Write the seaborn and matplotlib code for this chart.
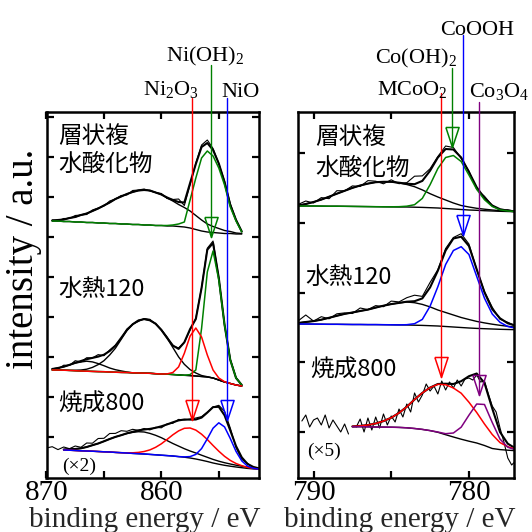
import numpy as np
import matplotlib
matplotlib.use("Agg")
import matplotlib.pyplot as plt
import seaborn as sns

nan = np.nan

# ---------------- Ni 2p (left panel) ----------------
# binding energy grid (eV); intensities are in arbitrary units
ni_E = [870.0, 869.5, 869.0, 868.5, 868.0, 867.5, 867.0, 866.5, 866.0, 865.5,
        865.0, 864.5, 864.0, 863.5, 863.0, 862.5, 862.0, 861.5, 861.0, 860.5,
        860.0, 859.5, 859.0, 858.5, 858.0, 857.5, 857.0, 856.5, 856.0, 855.5,
        855.0, 854.5, 854.0, 853.5, 853.0, 852.5, 852.0, 851.5]

# 層状複水酸化物
ni_ldh_bg = [nan, 257, 257, 256.5, 256.5, 256, 256, 255.5, 255.5, 255, 255, 254.5, 254.5, 254, 254,
             253.5, 253.5, 253, 253, 252.5, 252.5, 252, 252, 251.5, 251, 250, 248.5, 247, 246, 245.5,
             245, 244.5, 244.5, 244, 244, nan, nan, nan]
ni_ldh_sat = [nan, 0.5, 1, 2, 3.5, 5, 7, 9, 11.5, 14.5, 17.5, 21, 24.5, 27.5, 30, 32.5, 34, 35, 34.5, 33,
              31, 28, 25, 22, 19.5, 17, 14, 11, 8, 6, 4.5, 3, 2, 1, 0.5, nan, nan, nan]
ni_ldh_oh = [nan, 0, 0, 0, 0, 0, 0, 0, 0, 0, 0, 0, 0, 0, 0, 0, 0, 0, 0, 0, 0,
             0.5, 1, 2.5, 5, 28, 51.5, 73, 81, 76.5, 65, 48.5, 26.5, 13, 2, nan, nan, nan]
ni_ldh_res = [nan, 0.5, -1, 1, -0.5, 1.5, 0, -1, 1, 0.5, -0.5, 1.5, 0, 1, -1, 1.5, 0.5, 1, -0.5, 0,
              1, -1, 0.5, 3, -3, -2, 1, 2, 3, 1.5, 0, 1, 1.5, 0.5, 0, nan, nan, nan]

# 水熱120
ni_hyd_bg = [nan, 108, 108, 107.8, 107.6, 107.3, 107, 106.8, 106.6, 106.4, 106.3, 106, 105.8, 105.6,
             105.5, 105.2, 105, 104.9, 104.7, 104.3, 104, 103.8, 103.5, 103.1, 102.7, 102.4, 102, 101.5,
             101, 100, 98, 96, 94.5, 93, 92, nan, nan, nan]
ni_hyd_sat1 = [nan, 1, 2, 3.5, 5.5, 7.5, 9, 10, 9.5, 8, 6, 4, 2.5, 1.5, 0.5, 0, 0, 0, 0, 0,
               0, 0, 0, 0, 0, 0, 0, 0, 0, 0, 0, 0, 0, 0, 0, nan, nan, nan]
ni_hyd_sat2 = [nan, 0, 0, 0, 0, 0.5, 1, 2, 4, 7, 11, 17, 24, 33, 42, 48.5, 52.5, 54, 53, 50,
               44, 36, 27, 18, 11, 6, 3, 1, 0.3, 0, 0, 0, 0, 0, 0, nan, nan, nan]
ni_hyd_n2o3 = [nan, 0, 0, 0, 0, 0, 0, 0, 0, 0, 0, 0, 0, 0, 0, 0, 0, 0, 0, 0, 0,
               0.3, 2, 8, 22, 39.5, 48, 39.5, 22, 8, 2, 0.3, 0, 0, 0, nan, nan, nan]
ni_hyd_oh = [nan, 0, 0, 0, 0, 0, 0, 0, 0, 0, 0, 0, 0, 0, 0, 0, 0, 0, 0, 0, 0, 0, 0, 0,
             0, 1, 6, 48, 105, 127, 100, 57, 23.5, 7, 1, nan, nan, nan]
ni_hyd_res = [nan, 0.5, -1, 1.5, -0.5, 2, -1, 1.5, 0, 2, -1, 1, 0.5, -0.5, 1, 0, -1, 0.5, 1, -0.5,
              0.5, 1, -0.5, 1, 0, -1, 1, 0.5, 1.5, 2, 0.5, 0, 1, 0.5, 0, nan, nan, nan]

# 焼成800 (x2)
ni_cal_bg = [28.5, 28.3, 28.1, 28, 27.8, 27.5, 27.2, 27, 26.8, 26.5, 26.2, 26, 25.6, 25.3, 25, 24.6,
             24.3, 24, 23.6, 23.2, 22.8, 22.4, 22, 21.4, 20.8, 20, 19, 17.8, 16.5, 15, 13.8, 12.7,
             11.8, 11, 10.3, 9.6, 9.1, 8.7]
ni_cal_sat = [0, 0, 0.3, 0.5, 1, 1.5, 2.5, 4, 6, 8, 10.5, 13, 15.5, 17.5, 19.5, 21, 22, 22, 21, 19.5,
              17.5, 15, 12.5, 10.5, 8.5, 7, 6, 5, 4.2, 3.6, 3, 2.6, 2.2, 1.8, 1.5, 1.2, 0.9, 0.6]
ni_cal_n2o3 = [0, 0, 0, 0, 0, 0, 0, 0, 0, 0, 0, 0, 0, 0, 0.2, 0.6, 1.3, 2.5, 4.5, 7.5, 11.4, 16.2,
               21.2, 25.7, 28.9, 30, 28.9, 26, 22, 17.5, 13, 9, 5.8, 3.5, 2, 1, 0.5, 0.2]
ni_cal_nio = [0, 0, 0, 0, 0, 0, 0, 0, 0, 0, 0, 0, 0, 0, 0, 0, 0, 0, 0, 0, 0, 0, 0, 0,
              0.3, 1.4, 4.6, 11.6, 22.7, 34.8, 41.4, 38.4, 27.7, 15.6, 6.8, 2.3, 0.6, 0.1]
ni_cal_res = [1.5, 3, 0, 2.5, 0.5, 3, 1, 4, 2, 5, 3, 5.5, 3.5, 4.5, 2, 2.5, 0, 1, -1, 0.5,
              -1.5, 0.5, -1, 1, -0.5, 0.5, 1.5, 1, 0.5, 0, 1.5, 4, 2.5, -1.5, -2, 0.5, -1, -0.5]

ni_ref_labels = ["Ni$_2$O$_3$", "Ni(OH)$_2$", "NiO"]
ni_ref_E = [857.3, 855.7, 854.3]
ni_ref_colors = ["red", "green", "blue"]
ni_arrow_h = [58, 241, 58]
ni_ticks = [870, 865, 860, 855]
ni_ticklabels = ["870", "", "860", ""]

# ---------------- Co 2p (right panel) ----------------
co_E = [791.0, 790.5, 790.0, 789.5, 789.0, 788.5, 788.0, 787.5, 787.0, 786.5, 786.0, 785.5,
        785.0, 784.5, 784.0, 783.5, 783.0, 782.5, 782.0, 781.5, 781.0, 780.5, 780.0, 779.5,
        779.0, 778.5, 778.0, 777.5, 777.0]

co_ldh_bg = [272, 272, 272, 271.9, 271.8, 271.8, 271.7, 271.6, 271.5, 271.4, 271.3, 271.2, 271.1,
             271, 271, 270.8, 270.6, 270.3, 270, 269.5, 269, 268.5, 268, 267.7, 267.3, 267, 266.7,
             266.5, 266.3]
co_ldh_sat = [0.5, 2, 4, 6.5, 9.5, 12.5, 15.5, 18.5, 21, 23, 24.5, 25, 25, 24, 22.5, 20.5, 17.5,
              14, 11, 8.5, 6, 4, 3, 2, 1.5, 1, 0.6, 0.3, 0.1]
co_ldh_oh = [0, 0, 0, 0, 0, 0, 0, 0, 0, 0, 0, 0, 0.1, 0.3, 0.8, 2.5, 9, 23, 39.5, 51, 53.5, 48,
             35, 21, 11, 4.5, 1.5, 0.5, 0.2]
co_ldh_res = [1, 3, -1, 2, -2, 3, 0, 2, -1, 3, 1, -2, 2, -1, 1, 8, 5, 2, 1, 3, 2, -1, 1, -2, 2,
              0, -1, 1, 0]

co_hyd_bg = [154, 154, 153.9, 153.8, 153.7, 153.7, 153.6, 153.5, 153.5, 153.4, 153.4, 153.3, 153.2,
             153.1, 153, 152.8, 152.6, 152.3, 152, 151.5, 151, 150.5, 150, 149.6, 149.3, 149, 148.7,
             148.5, 148.3]
co_hyd_sat = [1, 2, 3, 4.5, 6.5, 8.5, 10.5, 12, 13.5, 15, 17, 19, 20.7, 22, 23, 22.5, 21, 18.8, 16,
              14, 12, 10, 8.5, 7, 5.8, 4.8, 4, 3.2, 2.5]
co_hyd_oohh = [0, 0, 0, 0, 0, 0, 0, 0, 0, 0, 0, 0, 0, 0, 0.3, 1.5, 6, 19.5, 39.3, 62, 76.5, 80.8,
               73.5, 52, 30.5, 15, 7, 3, 1.5]
co_hyd_res = [2, 7, 0, 3, -1, 2, 1, -1, 3, 0, 2, -1, 3, 1, 4, 6, 2, 5, 1, 2, 1, 3, 2, 0, 1, 2,
              -1, 1, 0]

co_cal_bg = [nan, nan, nan, nan, nan, nan, nan, 51.3, 51.3, 51.2, 51, 50.9, 50.8, 50.6, 50.2, 49.5,
             48.6, 47.4, 45.7, 43.3, 41, 38.8, 36.8, 35, 32.5, 29.5, 28.4, 27.8, 27.3]
co_cal_mcoo2 = [nan, nan, nan, nan, nan, nan, nan, 0.3, 0.8, 1.8, 3.5, 6, 9.5, 14.5, 21, 29, 36.5,
                43, 48, 50, 49, 46, 39, 30.5, 21.5, 14, 7, 3.5, 1.5]
co_cal_co3o4 = [nan, nan, nan, nan, nan, nan, nan, 0, 0, 0, 0, 0, 0, 0, 0, 0, 0, 0, 0.3, 1, 4,
                12, 26, 39, 41, 26, 10.5, 3, 0.8]
# 焼成800 (x5) raw data on a finer grid
co_cal_raw_E = [791.0, 790.75, 790.5, 790.25, 790.0, 789.75, 789.5, 789.25, 789.0, 788.75, 788.5,
                788.25, 788.0, 787.75, 787.5, 787.25, 787.0, 786.75, 786.5, 786.25, 786.0, 785.75,
                785.5, 785.25, 785.0, 784.75, 784.5, 784.25, 784.0, 783.75, 783.5, 783.25, 783.0,
                782.75, 782.5, 782.25, 782.0, 781.75, 781.5, 781.25, 781.0, 780.75, 780.5, 780.25,
                780.0, 779.75, 779.5, 779.25, 779.0, 778.75, 778.5, 778.25, 778.0, 777.75, 777.5,
                777.25, 777.0]
co_cal_raw = [nan, 57, 63, 51, 58, 60, 53, 63, 50, 58, 52, 46, 54, 44, nan, 51, 59, 46, 60, 48, 61,
              50, 64, 53, 62, 56, 69, 61, 74, 66, 85, 76, 83, 94, 87, 92, 84, 97, 88, 96, 90, 98,
              92, 99, 100, 98, 103, 96, 97, 84, 72, 66, 50, 36, 20, 13, 17]

co_ref_labels = ["MCoO$_2$", "Co(OH)$_2$", "CoOOH", "Co$_3$O$_4$"]
co_ref_E = [781.8, 781.1, 780.4, 779.35]
co_ref_colors = ["red", "green", "blue", "purple"]
co_arrow_h = [101, 331, 243, 83]
co_ticks = [790, 785, 780]
co_ticklabels = ["790", "", "780"]

# ---------------- style ----------------
sns.set_theme(style="ticks", rc={"axes.edgecolor": "black", "xtick.color": "black",
                                 "ytick.color": "black", "text.color": "black"})
plt.rcParams["font.family"] = ["Liberation Serif", "Noto Sans CJK JP", "DejaVu Sans"]
plt.rcParams["mathtext.fontset"] = "custom"
plt.rcParams["mathtext.rm"] = "Liberation Serif"
plt.rcParams["mathtext.it"] = "Liberation Serif:italic"
plt.rcParams["mathtext.bf"] = "Liberation Serif:bold"
JP = ["Noto Sans CJK JP", "DejaVu Sans"]

W = H = 532
AX_BOT, AX_TOP = 478, 112
fig = plt.figure(figsize=(5.32, 5.32), dpi=100)
fig.patch.set_facecolor("white")
ax_ni = fig.add_axes([46.5 / W, 1 - AX_BOT / H, 212.5 / W, (AX_BOT - AX_TOP) / H])
ax_co = fig.add_axes([298 / W, 1 - AX_BOT / H, 216 / W, (AX_BOT - AX_TOP) / H])


def fx(x):
    return x / W


def fy(y):
    return 1 - y / H


def line(ax, x, y, color, lw):
    x = np.asarray(x, float)
    y = np.asarray(y, float)
    ok = ~np.isnan(y)
    seg = np.cumsum(~ok)[ok]
    sns.lineplot(x=x[ok], y=y[ok], units=seg, estimator=None, sort=False,
                 color=color, linewidth=lw, ax=ax, legend=False)


def spectrum(ax, E, bg, sats, comps, res=None, fit_max=None):
    E = np.asarray(E, float)
    bg = np.asarray(bg, float)
    sats = [np.asarray(s, float) for s in sats]
    comps = [(np.asarray(c, float), col) for c, col in comps]
    env = bg + sum(sats) + sum(c for c, _ in comps)
    if res is not None:
        line(ax, E, env + np.asarray(res, float), "black", 0.8)
    fit = E <= fit_max if fit_max is not None else np.ones(len(E), bool)
    f = lambda y: np.where(fit, y, nan)
    line(ax, E, f(env), "black", 1.5)
    line(ax, E, f(bg), "black", 1.0)
    for s in sats:
        line(ax, E, f(bg + s), "black", 1.0)
    for c, col in comps:
        line(ax, E, f(bg + c), col, 1.1)


# left panel
spectrum(ax_ni, ni_E, ni_ldh_bg, [ni_ldh_sat], [(ni_ldh_oh, "green")], ni_ldh_res)
spectrum(ax_ni, ni_E, ni_hyd_bg, [ni_hyd_sat1, ni_hyd_sat2],
         [(ni_hyd_oh, "green"), (ni_hyd_n2o3, "red")], ni_hyd_res)
spectrum(ax_ni, ni_E, ni_cal_bg, [ni_cal_sat],
         [(ni_cal_n2o3, "red"), (ni_cal_nio, "blue")], ni_cal_res, fit_max=868.6)

# right panel
spectrum(ax_co, co_E, co_ldh_bg, [co_ldh_sat], [(co_ldh_oh, "green")], co_ldh_res)
spectrum(ax_co, co_E, co_hyd_bg, [co_hyd_sat], [(co_hyd_oohh, "blue")], co_hyd_res)
line(ax_co, co_cal_raw_E, co_cal_raw, "black", 0.8)
spectrum(ax_co, co_E, co_cal_bg, [], [(co_cal_mcoo2, "red"), (co_cal_co3o4, "purple")])

# reference lines with open arrow heads
ARROW = [(-0.33, 1.0), (0.33, 1.0), (0.0, 0.0), (-0.33, 1.0)]


def refs(ax, labels, Es, cols, tips, label_xy, top_px):
    for lab, E, col, tip, (lx, ly), tp in zip(labels, Es, cols, tips, label_xy, top_px):
        ax.plot([E, E], [tip, AX_BOT - tp], color=col, lw=1.0, clip_on=False, zorder=6)
        ax.plot([E], [tip], marker=ARROW, ms=28.8, mfc="none", mec=col, mew=1.1,
                clip_on=False, zorder=6)
        fig.text(fx(lx), fy(ly), lab, ha="center", va="baseline", fontsize=16)


refs(ax_ni, ni_ref_labels, ni_ref_E, ni_ref_colors, ni_arrow_h,
     [(171.5, 95), (205.5, 61.7), (241, 96.7)], [98, 65, 98])
refs(ax_co, co_ref_labels, co_ref_E, co_ref_colors, co_arrow_h,
     [(412.5, 95), (415.5, 63.3), (477.5, 35), (499, 96.7)], [93, 68, 35, 102])

# axes
for ax, lim, ticks, labs, yt, lx in [
        (ax_ni, (870, 851.5), ni_ticks, ni_ticklabels, [41, 81, 121, 161, 201, 241, 281, 321, 361], 0.461),
        (ax_co, (791.0, 777.1), co_ticks, co_ticklabels, [46, 116, 185, 255, 325], 0.472)]:
    ax.set_xlim(*lim)
    ax.set_ylim(0, AX_BOT - AX_TOP)
    ax.set_xticks(ticks)
    ax.set_xticklabels(labs)
    ax.set_yticks(yt)
    ax.set_ylabel("")
    ax.tick_params(axis="both", direction="in", length=5, width=1.6, top=True, right=True,
                   labelsize=21, pad=1.5)
    ax.tick_params(axis="y", labelleft=False)
    for sp in ax.spines.values():
        sp.set_visible(True)
        sp.set_linewidth(1.8)
    ax.set_xlabel("binding energy / eV", fontsize=21)
    ax.xaxis.label.set_va("baseline")
    ax.xaxis.set_label_coords(lx, (AX_BOT - 527) / (AX_BOT - AX_TOP))
    ax.set_facecolor("white")

fig.text(fx(23.5), fy(258.5), "intensity / a.u.", rotation=90, ha="center", va="center",
         fontsize=28)

# sample names
for txt, x, y in [("層状複", 58, 143), ("水酸化物", 58, 171), ("水熱120", 58, 296), ("焼成800", 58, 411),
                  ("層状複", 315, 144), ("水酸化物", 315, 175), ("水熱120", 305, 284), ("焼成800", 310, 377)]:
    fig.text(fx(x), fy(y), txt, family=JP, fontsize=17, ha="left", va="baseline")
fig.text(fx(62), fy(471), "(×2)", fontsize=14, ha="left", va="baseline")
fig.text(fx(307), fy(456), "(×5)", fontsize=14, ha="left", va="baseline")

fig.savefig("out.png", dpi=100)
